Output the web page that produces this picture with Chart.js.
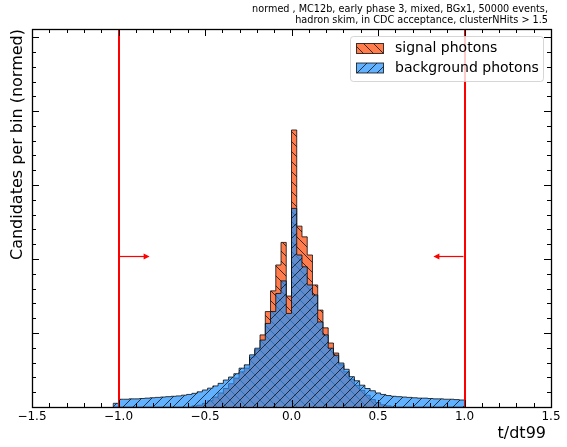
<!DOCTYPE html>
<html>
<head>
<meta charset="utf-8">
<script src="https://cdn.jsdelivr.net/npm/chart.js@4.4.0/dist/chart.umd.min.js"></script>
<style>
html, body { margin: 0; padding: 0; background: #fff; }
</style>
</head>
<body>
<canvas id="hist_chart" width="567" height="447"></canvas>
<script>
///// DATA

// bins of width 1/33 from -34/33 to 1
var binLow = -34 / 33;
var binWidth = 1 / 33;

var signalValues = [
  0, 0, 0, 0, 0, 0, 0, 0, 0, 0, 0, 0, 0, 0, 0,
  0.03, 0.05, 0.10, 0.17, 0.27, 0.38, 0.50, 0.63, 0.78, 0.95,
  1.05, 1.35, 1.55, 1.95, 2.58, 3.14, 3.84, 4.45, 3.00,
  7.49, 4.89, 4.60, 4.11, 3.30, 2.62, 2.14, 1.73, 1.46, 1.14,
  0.95, 0.75, 0.58, 0.45, 0.32, 0.20, 0.12, 0.06, 0.03,
  0, 0, 0, 0, 0, 0, 0, 0, 0, 0, 0, 0, 0, 0
];

var backgroundValues = [
  0.10, 0.21, 0.21, 0.22, 0.22, 0.23, 0.24, 0.25, 0.26, 0.27,
  0.28, 0.29, 0.30, 0.32, 0.34, 0.37, 0.41, 0.46, 0.51, 0.57,
  0.64, 0.73, 0.81, 0.90, 1.05, 1.14, 1.41, 1.59, 1.81, 2.26,
  2.58, 3.07, 3.41, 2.53,
  5.37, 4.11, 3.79, 3.30, 3.03, 2.30, 1.95, 1.59, 1.40, 1.19,
  1.02, 0.82, 0.71, 0.59, 0.50, 0.44, 0.38, 0.34, 0.31, 0.29,
  0.28, 0.27, 0.26, 0.25, 0.24, 0.24, 0.23, 0.22, 0.22, 0.21,
  0.21, 0.20, 0.19
];

var seriesLabels = ["signal photons", "background photons"];
var xTickValues = [-1.5, -1.0, -0.5, 0.0, 0.5, 1.0, 1.5];
var cutValues = [-1.0, 1.0];
var titleLines = [
  "normed , MC12b, early phase 3, mixed, BGx1, 50000 events,",
  "hadron skim, in CDC acceptance, clusterNHits > 1.5"
];

var FONT = "'DejaVu Sans', 'Liberation Sans', sans-serif";

// outline of a step histogram: up at the first edge, down at the last one
function stepPoints(vals) {
  var pts = [{x: binLow, y: 0}];
  for (var i = 0; i < vals.length; i++) {
    pts.push({x: binLow + i * binWidth, y: vals[i]});
  }
  pts.push({x: binLow + vals.length * binWidth, y: 0});
  return pts;
}

var ctxHist = document.getElementById('hist_chart').getContext('2d');

function makeHatch(fill, dir) {
  var s = 10;
  var c = document.createElement('canvas');
  c.width = s; c.height = s;
  var g = c.getContext('2d');
  g.fillStyle = fill;
  g.fillRect(0, 0, s, s);
  g.strokeStyle = 'rgba(0,0,0,0.7)';
  g.lineWidth = 1;
  g.beginPath();
  for (var k = -s; k <= s; k += s) {
    if (dir === '/') { g.moveTo(k, s); g.lineTo(k + s, 0); }
    else { g.moveTo(k, 0); g.lineTo(k + s, s); }
  }
  g.stroke();
  return ctxHist.createPattern(c, 'repeat');
}

var signalHatch = makeHatch('rgba(255,69,0,0.7)', '\\');
var backgroundHatch = makeHatch('rgba(30,144,255,0.7)', '/');
var edgeColor = 'rgba(0,0,0,0.75)';

function fmt(v) {
  return v.toFixed(1).replace('-', '\u2212');
}

// ticks pointing inwards on all four sides, frame, cut lines, legend, texts
var decorations = {
  id: 'decorations',
  afterDatasetsDraw: function(chart) {
    var c = chart.ctx, a = chart.chartArea;
    var xs = chart.scales.x, ys = chart.scales.y;
    c.save();
    c.strokeStyle = '#ff0000';
    c.fillStyle = '#ff0000';
    c.lineWidth = 2;
    cutValues.forEach(function(v) {
      var px = Math.round(xs.getPixelForValue(v));
      c.beginPath();
      c.moveTo(px, a.top);
      c.lineTo(px, a.bottom);
      c.stroke();
    });
    // arrows pointing into the window
    var ay = Math.round(ys.getPixelForValue(4.08)) + 0.5;
    [[-1.0, -0.82], [1.0, 0.82]].forEach(function(p) {
      var x0 = xs.getPixelForValue(p[0]) + (p[1] > p[0] ? 1 : -1);
      var x1 = xs.getPixelForValue(p[1]);
      var d = x1 > x0 ? 1 : -1;
      c.lineWidth = 1.2;
      c.beginPath();
      c.moveTo(x0, ay);
      c.lineTo(x1 - d * 5, ay);
      c.stroke();
      c.beginPath();
      c.moveTo(x1, ay);
      c.lineTo(x1 - d * 6, ay - 3);
      c.lineTo(x1 - d * 6, ay + 3);
      c.closePath();
      c.fill();
    });
    c.restore();
  },
  afterDraw: function(chart) {
    var c = chart.ctx, a = chart.chartArea;
    var xs = chart.scales.x, ys = chart.scales.y;
    c.save();
    c.strokeStyle = '#000';
    c.lineWidth = 1;
    c.beginPath();
    var i, v, p, len;
    for (i = -15; i <= 15; i++) {
      v = i / 10;
      p = Math.round(xs.getPixelForValue(v)) + 0.5;
      len = (i % 5 === 0) ? 7 : 4;
      c.moveTo(p, a.bottom); c.lineTo(p, a.bottom - len);
      c.moveTo(p, a.top); c.lineTo(p, a.top + len);
    }
    for (i = 0; i * 0.4 <= ys.max; i++) {
      v = i * 0.4;
      p = Math.round(ys.getPixelForValue(v)) + 0.5;
      len = (i % 5 === 0) ? 7 : 4;
      c.moveTo(a.left, p); c.lineTo(a.left + len, p);
      c.moveTo(a.right, p); c.lineTo(a.right - len, p);
    }
    c.stroke();
    c.lineWidth = 1.3;
    c.strokeRect(Math.round(a.left) + 0.5, Math.round(a.top) + 0.5,
                 Math.round(a.right - a.left), Math.round(a.bottom - a.top));

    // legend
    var lx = 350, ly = 36, lw = 193, lh = 45;
    c.beginPath();
    c.roundRect(lx + 0.5, ly + 0.5, lw, lh, 3);
    c.fillStyle = 'rgba(255,255,255,0.8)';
    c.fill();
    c.strokeStyle = 'rgba(204,204,204,0.8)';
    c.lineWidth = 1;
    c.stroke();
    var pats = [signalHatch, backgroundHatch];
    c.font = '14px ' + FONT;
    c.textBaseline = 'middle';
    c.textAlign = 'left';
    for (i = 0; i < 2; i++) {
      var py = 43.5 + i * 19.5;
      c.fillStyle = '#fff';
      c.fillRect(356.5, py, 27, 10);
      c.fillStyle = pats[i];
      c.fillRect(356.5, py, 27, 10);
      c.strokeStyle = edgeColor;
      c.strokeRect(356.5, py, 27, 10);
      c.fillStyle = '#000';
      c.fillText(seriesLabels[i], 395, py + 5);
    }

    // titles
    c.fillStyle = '#000';
    c.font = '9.7px ' + FONT;
    c.textAlign = 'right';
    c.fillText(titleLines[0], 548, 9);
    c.fillText(titleLines[1], 548, 20);
    c.font = '16px ' + FONT;
    c.fillText('t/dt99', 546, 434);
    c.translate(18, a.top);
    c.rotate(-Math.PI / 2);
    c.fillText('Candidates per bin (normed)', 0, 0);
    c.restore();
  }
};

var chart = new Chart(ctxHist, {
  type: 'line',
  data: {
    datasets: [{
      label: seriesLabels[0],
      data: stepPoints(signalValues),
      stepped: true,
      fill: 'origin',
      backgroundColor: signalHatch,
      borderColor: edgeColor,
      borderWidth: 1,
      pointRadius: 0,
      order: 2
    }, {
      label: seriesLabels[1],
      data: stepPoints(backgroundValues),
      stepped: true,
      fill: 'origin',
      backgroundColor: backgroundHatch,
      borderColor: edgeColor,
      borderWidth: 1,
      pointRadius: 0,
      order: 1
    }]
  },
  options: {
    responsive: false,
    animation: false,
    devicePixelRatio: 1,
    layout: { padding: { left: 32, right: 16, top: 29, bottom: 0 } },
    plugins: {
      legend: { display: false },
      tooltip: { enabled: false },
      title: { display: false }
    },
    scales: {
      x: {
        type: 'linear',
        min: -1.5,
        max: 1.5,
        afterBuildTicks: function(scale) {
          scale.ticks = xTickValues.map(function(v) { return {value: v}; });
        },
        afterFit: function(scale) { scale.height = 40; },
        ticks: {
          callback: function(v) { return fmt(v); },
          font: { family: FONT, size: 12 },
          color: '#000',
          padding: 3,
          maxRotation: 0,
          autoSkip: false
        },
        grid: { display: false, drawTicks: false },
        border: { display: false }
      },
      y: {
        type: 'linear',
        min: 0,
        max: 10.22,
        display: false
      }
    }
  },
  plugins: [decorations]
});
</script>
</body>
</html>
